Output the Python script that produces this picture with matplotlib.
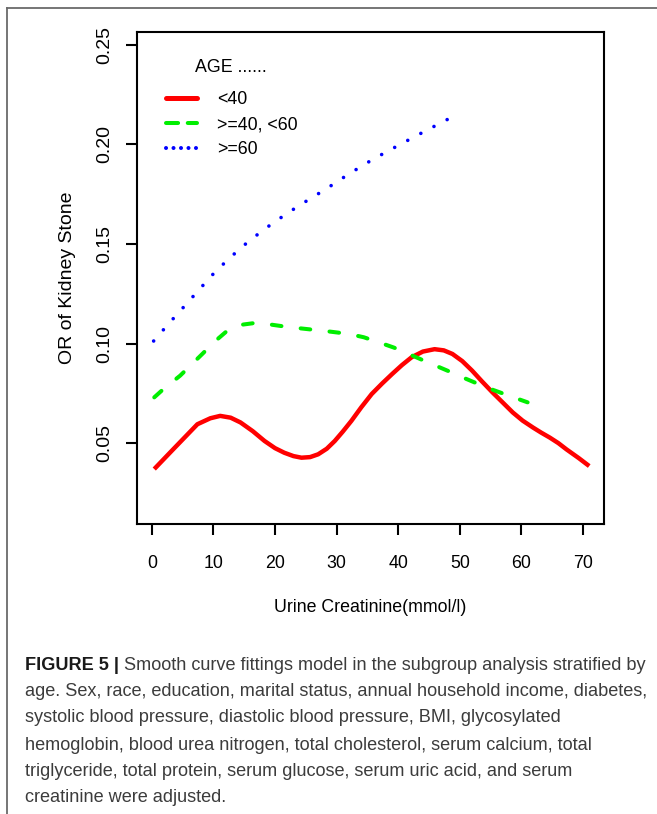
import matplotlib
matplotlib.use("Agg")
import matplotlib.pyplot as plt
from matplotlib import font_manager
from matplotlib.lines import Line2D

# ---------------- data ----------------
red_x = [0.4, 3.5, 7.4, 9.5, 11.1, 12.8, 14.4, 16.4, 18.3, 20.0, 21.5, 23.0, 24.3, 25.7, 27.0, 28.4,
         29.7, 31.0, 32.4, 34.0, 35.7, 37.4, 39.0, 40.6, 42.2, 44.0, 45.9, 47.4, 48.8, 50.4, 52.0,
         53.6, 55.3, 57.0, 58.6, 60.2, 61.9, 63.2, 64.6, 66.0, 67.3, 69.3, 71.0]
red_y = [0.0370, 0.0470, 0.0595, 0.0625, 0.0637, 0.0628, 0.0604, 0.0560, 0.0511, 0.0475, 0.0452, 0.0435,
         0.0427, 0.0430, 0.0444, 0.0472, 0.0511, 0.0558, 0.0612, 0.0680, 0.0747, 0.0800, 0.0847, 0.0892,
         0.0932, 0.0960, 0.0972, 0.0966, 0.0948, 0.0912, 0.0864, 0.0810, 0.0755, 0.0703, 0.0654, 0.0613,
         0.0578, 0.0553, 0.0528, 0.0500, 0.0469, 0.0425, 0.0385]

green_x = [0.4, 1.9, 4.6, 8.2, 10.2, 12.3, 14.4, 16.6, 19.0, 21.5, 24.0, 26.4, 29.0, 31.9, 34.4, 36.8,
           39.3, 41.7, 43.9, 46.1, 48.3, 50.4, 52.7, 55.0, 58.0, 61.0]
green_y = [0.0730, 0.0772, 0.0839, 0.0948, 0.1010, 0.1066, 0.1094, 0.1103, 0.1097, 0.1086, 0.1077, 0.1069,
           0.1060, 0.1049, 0.1032, 0.1007, 0.0980, 0.0948, 0.0918, 0.0889, 0.0860, 0.0831, 0.0801, 0.0772,
           0.0738, 0.0705]

blue_x = [0.3, 2.8, 5.3, 7.8, 10.3, 13.0, 15.8, 18.8, 21.9, 25.1, 28.3, 31.4, 34.6, 37.9, 41.2, 44.1,
          47.0, 50.0]
blue_y = [0.1013, 0.1102, 0.1188, 0.1275, 0.1361, 0.1440, 0.1516, 0.1586, 0.1653, 0.1716, 0.1777, 0.1840,
          0.1902, 0.1960, 0.2015, 0.2063, 0.2110, 0.2158]

series_labels = ["<40", ">=40, <60", ">=60"]
legend_title = "AGE ......"
x_ticks = [0, 10, 20, 30, 40, 50, 60, 70]
y_ticks = [0.05, 0.10, 0.15, 0.20, 0.25]
y_tick_labels = ["0.05", "0.10", "0.15", "0.20", "0.25"]
x_label = "Urine Creatinine(mmol/l)"
y_label = "OR of Kidney Stone"

caption_bold = "FIGURE 5 | "
caption_lines = [
    "Smooth curve fittings model in the subgroup analysis stratified by",
    "age. Sex, race, education, marital status, annual household income, diabetes,",
    "systolic blood pressure, diastolic blood pressure, BMI, glycosylated",
    "hemoglobin, blood urea nitrogen, total cholesterol, serum calcium, total",
    "triglyceride, total protein, serum glucose, serum uric acid, and serum",
    "creatinine were adjusted.",
]

# ---------------- fonts ----------------
def has_font(name):
    try:
        font_manager.findfont(font_manager.FontProperties(family=name), fallback_to_default=False)
        return True
    except Exception:
        return False

NARROW = "Liberation Sans Narrow" if has_font("Liberation Sans Narrow") else "Liberation Sans"
REG = "Liberation Sans"
fs = 14 if NARROW != REG else 12.8

W, H = 657, 814
fig = plt.figure(figsize=(W / 100, H / 100), dpi=100)
fig.patch.set_facecolor("white")

# outer frame (top and left)
fig.add_artist(Line2D([7 / W, 1.0], [1 - 8 / H, 1 - 8 / H], color="#6a6a6a", lw=1.3,
                      transform=fig.transFigure))
fig.add_artist(Line2D([7 / W, 7 / W], [0.0, 1 - 8 / H], color="#6a6a6a", lw=1.3,
                      transform=fig.transFigure))

L, R, T, B = 137, 604, 32, 524
ax = fig.add_axes([L / W, 1 - B / H, (R - L) / W, (B - T) / H])
ax.set_xlim(-2.4, 73.4)
ax.set_ylim(0.0094, 0.2565)

ax.plot(red_x, red_y, color="#ff0000", lw=3.2, solid_capstyle="butt", label=series_labels[0])
ax.plot(green_x, green_y, color="#00ee00", lw=2.9, linestyle=(0, (2.4, 4.8)),
        dash_capstyle="round", label=series_labels[1])
ax.plot(blue_x, blue_y, color="#0000ff", lw=2.6, linestyle=(0, (0.01, 4.1)),
        dash_capstyle="round", label=series_labels[2])

for s in ax.spines.values():
    s.set_linewidth(1.5)
    s.set_color("black")

ax.set_xticks(x_ticks)
ax.set_xticklabels([str(v) for v in x_ticks], fontfamily=NARROW, fontsize=fs)
ax.set_yticks(y_ticks)
ax.set_yticklabels(y_tick_labels, fontfamily=REG, fontsize=14, rotation=90, va="center")
ax.tick_params(axis="both", direction="out", length=8, width=1.5, color="black")
ax.tick_params(axis="x", pad=14)
ax.tick_params(axis="y", pad=9)

ax.set_xlabel(x_label, fontfamily=NARROW, fontsize=fs, va="center")
ax.xaxis.set_label_coords(0.5, (B - 608) / (B - T))
ax.set_ylabel(y_label, fontfamily=REG, fontsize=14, va="center")
ax.yaxis.set_label_coords((68 - L) / (R - L), 0.5)

# legend
h_red = Line2D([], [], color="#ff0000", lw=3.6, solid_capstyle="round")
h_green = Line2D([], [], color="#00ee00", lw=2.9, linestyle=(0, (3.0, 2.4)), dash_capstyle="round")
h_blue = Line2D([], [], color="#0000ff", lw=2.9, linestyle=(0, (0.01, 1.85)), dash_capstyle="round")
leg = ax.legend([h_red, h_green, h_blue], series_labels, loc="upper left",
                bbox_to_anchor=((166 - L) / (R - L), (B - 91) / (B - T)),
                frameon=False, borderpad=0, borderaxespad=0,
                handlelength=1.75, handletextpad=1.1, labelspacing=0.45,
                prop={"family": NARROW, "size": fs})
ax.text((195 - L) / (R - L), (B - 68) / (B - T), legend_title, transform=ax.transAxes,
        fontfamily=NARROW, fontsize=fs, ha="left", va="center")

# caption
renderer = fig.canvas.get_renderer()
cap_fs = 13.0
probe = fig.text(0, 0, caption_lines[1], fontfamily=REG, fontsize=cap_fs)
wpx = probe.get_window_extent(renderer).width
probe.remove()
cap_fs = cap_fs * (648 - 25) / wpx

line_y = [665, 692, 718, 745, 771, 797]
x0 = 25 / W
tb = fig.text(x0, 1 - line_y[0] / H, caption_bold, fontfamily=REG, fontweight="bold",
              fontsize=cap_fs, color="#1a1a1a", va="center", ha="left")
bw = tb.get_window_extent(renderer).width
for i, line in enumerate(caption_lines):
    xx = x0 + (bw / W if i == 0 else 0)
    fig.text(xx, 1 - line_y[i] / H, line, fontfamily=REG, fontsize=cap_fs,
             color="#3c3c3c", va="center", ha="left")

fig.savefig("out.png", dpi=100, facecolor="white")
